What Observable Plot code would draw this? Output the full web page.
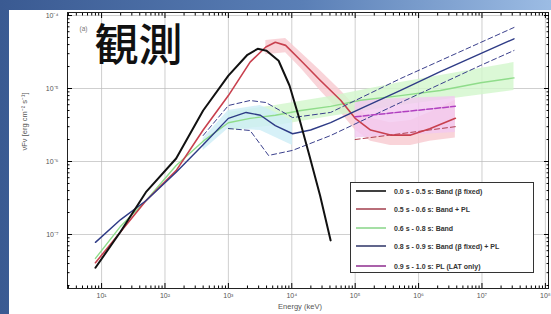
<!DOCTYPE html>
<html><head><meta charset="utf-8">
<script src="https://cdn.jsdelivr.net/npm/d3@7"></script>
<script src="https://cdn.jsdelivr.net/npm/@observablehq/plot@0.6"></script>
<style>
html,body{margin:0;padding:0;background:#fff;}
#wrap{position:relative;width:551px;height:314px;overflow:hidden;background:linear-gradient(90deg,#3a5a92 0%,#5a7fb6 55%,#9cbce4 100%);}
#panel{position:absolute;left:9px;top:10px;width:542px;height:304px;background:#fff;}
#chart{position:absolute;left:0;top:0;}
#legend{position:absolute;left:350px;top:182px;width:184px;height:91px;border:1px solid #333;background:#fff;box-sizing:border-box;}
.row{position:absolute;left:0;height:10px;display:flex;align-items:center;font:bold 7px "Liberation Sans",Arial,sans-serif;color:#333;white-space:nowrap;}
.row svg{margin-left:5px;margin-right:8px;}
</style></head>
<body>
<div id="wrap"><div id="panel"></div><div id="chart"></div><div id="legend"></div></div>
<script>
// ---- data (energy in keV, nuFnu in erg cm^-2 s^-1) ----
const seriesLabels = ["0.0 s - 0.5 s: Band (β fixed)", "0.5 s - 0.6 s: Band + PL", "0.6 s - 0.8 s: Band", "0.8 s - 0.9 s: Band (β fixed) + PL", "0.9 s - 1.0 s: PL (LAT only)"];
const seriesColors = ["#111111", "#c8404e", "#8fdc8a", "#2e3b86", "#b040c0"];
const legendColors = ["#111111", "#a84a58", "#8fd88f", "#3a4070", "#953a95"];

const blackE = [8, 20, 50, 150, 400, 1000, 2000, 2900, 4000, 6200, 9200, 13000, 19000, 28000, 41000];
const blackF = [3.5e-8, 1.1e-7, 3.8e-7, 1.1e-6, 5.0e-6, 1.5e-5, 2.9e-5, 3.5e-5, 3.3e-5, 2.4e-5, 1.1e-5, 4.0e-6, 1.2e-6, 3.4e-7, 8.3e-8];

const redE = [8, 50, 150, 400, 1000, 2200, 3900, 5500, 8000, 14000, 28000, 59000, 100000, 175000, 360000, 750000, 1.5e6, 3.8e6];
const redF = [4.1e-8, 2.9e-7, 7.5e-7, 2.7e-6, 8.0e-6, 2.3e-5, 3.7e-5, 4.3e-5, 3.9e-5, 2.4e-5, 1.3e-5, 6.9e-6, 3.9e-6, 2.7e-6, 2.3e-6, 2.3e-6, 2.8e-6, 3.9e-6];
const redBandE = [3900, 8000, 14000, 28000, 59000, 100000, 175000, 360000, 750000, 1.5e6, 3.8e6];
const redBandHi = [4.55e-5, 4.84e-5, 3.1e-5, 1.77e-5, 9.4e-6, 5.7e-6, 3.9e-6, 3.4e-6, 3.65e-6, 4.7e-6, 6.9e-6];
const redBandLo = [2.9e-5, 3.1e-5, 1.88e-5, 9.4e-6, 4.7e-6, 2.7e-6, 1.9e-6, 1.66e-6, 1.66e-6, 1.9e-6, 2.1e-6];
const redPlE = [1.0e5, 3.8e6];
const redPlF = [2.0e-6, 3.0e-6];

const greenE = [8, 20, 50, 150, 400, 1000, 2200, 5500, 14000, 41000, 122000, 520000, 2.2e6, 9.5e6, 3.2e7];
const greenF = [4.7e-8, 1.3e-7, 2.9e-7, 8.8e-7, 1.9e-6, 3.4e-6, 3.9e-6, 4.3e-6, 5.0e-6, 5.7e-6, 6.9e-6, 8.0e-6, 9.4e-6, 1.2e-5, 1.4e-5];
const greenBandE = [1000, 5500, 41000, 520000, 3.2e7];
const greenBandHi = [4.7e-6, 5.85e-6, 7.8e-6, 1.21e-5, 2.27e-5];
const greenBandLo = [2.66e-6, 3.1e-6, 4.13e-6, 5.85e-6, 9.4e-6];

const blueE = [8, 20, 50, 150, 400, 1000, 1900, 3200, 5500, 10300, 19800, 41000, 122000, 520000, 2.2e6, 9.5e6, 3.2e7];
const blueF = [7.8e-8, 1.6e-7, 2.9e-7, 7.1e-7, 1.7e-6, 3.9e-6, 4.7e-6, 4.3e-6, 3.1e-6, 2.4e-6, 2.7e-6, 3.4e-6, 5.3e-6, 9.4e-6, 1.7e-5, 3.0e-5, 4.8e-5];
const blueBandE = [400, 1000, 3200, 10300];
const blueBandHi = [2.07e-6, 5.0e-6, 5.85e-6, 3.65e-6];
const blueBandLo = [1.42e-6, 2.83e-6, 2.66e-6, 1.66e-6];
const blueHiE = [400, 1000, 2200, 3900, 10300, 41000, 520000, 9.5e6, 3.2e7];
const blueHiF = [2.27e-6, 5.85e-6, 6.85e-6, 6.43e-6, 4.0e-6, 4.7e-6, 1.37e-5, 4.27e-5, 6.86e-5];
const blueLoE = [1000, 2200, 4300, 10300, 41000, 520000, 9.5e6, 3.2e7];
const blueLoF = [2.83e-6, 2.66e-6, 1.21e-6, 1.42e-6, 2.27e-6, 6.43e-6, 2.07e-5, 3.32e-5];

const magE = [1.0e5, 3.8e6];
const magF = [4.1e-6, 5.7e-6];
const magBandHi = [6.9e-6, 7.8e-6];
const magBandLo = [2.1e-6, 2.49e-6];

const xDecades = [1, 2, 3, 4, 5, 6, 7, 8];
const yDecades = [-7, -6, -5, -4];

// ---- build tables ----
const pts = (E, F) => E.map((e, i) => ({E: e, F: F[i]}));
const band = (E, lo, hi) => E.map((e, i) => ({E: e, lo: lo[i], hi: hi[i]}));
const supMap = {"-": "⁻", "0": "⁰", "1": "¹", "2": "²", "3": "³", "4": "⁴", "5": "⁵", "6": "⁶", "7": "⁷", "8": "⁸", "9": "⁹"};
const pow10 = (k) => "10" + String(k).split("").map(c => supMap[c]).join("");
const xMajor = xDecades.map(k => Math.pow(10, k));
const yMajor = yDecades.map(k => Math.pow(10, k));
const xMinor = [], yMinor = [];
for (let k = 0; k <= 8; k++) for (let m = 2; m <= 9; m++) { const v = m * Math.pow(10, k); if (v > 2.9 && v < 1.12e8) xMinor.push(v); }
for (let k = -8; k <= -4; k++) for (let m = 2; m <= 9; m++) { const v = m * Math.pow(10, k); if (v > 1.82e-8 && v < 1.1e-4) yMinor.push(v); }

const tickFont = {fontSize: 7, fill: "#555"};

const chart = Plot.plot({
  width: 551, height: 314,
  marginLeft: 67, marginRight: 3, marginTop: 12, marginBottom: 26,
  style: {background: "transparent", fontFamily: "Liberation Sans, Arial, sans-serif"},
  x: {type: "log", domain: [2.9, 1.12e8]},
  y: {type: "log", domain: [1.82e-8, 1.1e-4]},
  marks: [
    Plot.gridX(xMajor, {stroke: "#bbb", strokeOpacity: 0.7}),
    Plot.gridY(yMajor, {stroke: "#bbb", strokeOpacity: 0.7}),
    Plot.areaY(band(redBandE, redBandLo, redBandHi), {x: "E", y1: "lo", y2: "hi", fill: "#f7c9d0", fillOpacity: 0.8}),
    Plot.areaY(band(greenBandE, greenBandLo, greenBandHi), {x: "E", y1: "lo", y2: "hi", fill: "#d2f6cc", fillOpacity: 0.8}),
    Plot.areaY(band(blueBandE, blueBandLo, blueBandHi), {x: "E", y1: "lo", y2: "hi", fill: "#cdeef6", fillOpacity: 0.8}),
    Plot.areaY(band(magE, magBandLo, magBandHi), {x: "E", y1: "lo", y2: "hi", fill: "#f3c8f0", fillOpacity: 0.8}),
    Plot.line(pts(greenE, greenF), {x: "E", y: "F", stroke: seriesColors[2], strokeWidth: 1.4, strokeDasharray: null}),
    Plot.line(pts(redPlE, redPlF), {x: "E", y: "F", stroke: "#b04050", strokeWidth: 1, strokeDasharray: "5,3"}),
    Plot.line(pts(redE, redF), {x: "E", y: "F", stroke: seriesColors[1], strokeWidth: 1.6}),
    Plot.line(pts(blueHiE, blueHiF), {x: "E", y: "F", stroke: "#3a3f8c", strokeWidth: 1, strokeDasharray: "5,3"}),
    Plot.line(pts(blueLoE, blueLoF), {x: "E", y: "F", stroke: "#3a3f8c", strokeWidth: 1, strokeDasharray: "5,3"}),
    Plot.line(pts(blueE, blueF), {x: "E", y: "F", stroke: seriesColors[3], strokeWidth: 1.4}),
    Plot.line(pts(magE, magF), {x: "E", y: "F", stroke: seriesColors[4], strokeWidth: 1.5, strokeDasharray: "6,2"}),
    Plot.line(pts(blackE, blackF), {x: "E", y: "F", stroke: seriesColors[0], strokeWidth: 2}),
    Plot.frame({stroke: "#222", strokeWidth: 1}),
    Plot.axisX({anchor: "bottom", ticks: xMinor, tickSize: -2.5, tickFormat: () => "", label: null}),
    Plot.axisX({anchor: "bottom", ticks: xMajor, tickSize: -5, tickFormat: () => "", label: null}),
    Plot.axisX({anchor: "bottom", ticks: xMajor, tickSize: 0, tickPadding: 5, tickFormat: v => pow10(Math.round(Math.log10(v))), label: null, ...tickFont}),
    Plot.axisX({anchor: "top", ticks: xMinor, tickSize: -2.5, tickFormat: () => "", label: null}),
    Plot.axisX({anchor: "top", ticks: xMajor, tickSize: -5, tickFormat: () => "", label: null}),
    Plot.axisY({anchor: "left", ticks: yMinor, tickSize: -2.5, tickFormat: () => "", label: null}),
    Plot.axisY({anchor: "left", ticks: yMajor, tickSize: -5, tickFormat: () => "", label: null}),
    Plot.axisY({anchor: "left", ticks: yMajor, tickSize: 0, tickPadding: 9, tickFormat: v => pow10(Math.round(Math.log10(v))), label: null, ...tickFont}),
    Plot.axisY({anchor: "right", ticks: yMinor, tickSize: -2.5, tickFormat: () => "", label: null}),
    Plot.axisY({anchor: "right", ticks: yMajor, tickSize: -5, tickFormat: () => "", label: null}),
    Plot.text(["Energy (keV)"], {frameAnchor: "bottom", dx: -8, dy: 20, fontSize: 7.5, fill: "#555"}),
    Plot.text(["νFν [erg cm⁻² s⁻¹]"], {frameAnchor: "left", dx: -43, rotate: -90, fontSize: 7.5, fill: "#555"}),
    Plot.text(["(a)"], {frameAnchor: "top-left", dx: 12, dy: 14, fontSize: 6.5, fill: "#777"}),
    Plot.text(["観測"], {frameAnchor: "top-left", dx: 27, dy: 17, lineAnchor: "top", textAnchor: "start", fontSize: 44, fontWeight: 500, fill: "#111", fontFamily: "Noto Sans CJK JP"})
  ]
});
document.getElementById("chart").appendChild(chart);

// ---- legend ----
const legend = document.getElementById("legend");
const rowTops = [3, 21, 40, 58, 78];
seriesLabels.forEach((lab, i) => {
  const row = document.createElement("div");
  row.className = "row";
  row.style.top = rowTops[i] + "px";
  row.innerHTML = `<svg width="30" height="6"><line x1="0" y1="3" x2="30" y2="3" stroke="${legendColors[i]}" stroke-width="1.6"/></svg><span>${lab}</span>`;
  legend.appendChild(row);
});
</script>
</body></html>
